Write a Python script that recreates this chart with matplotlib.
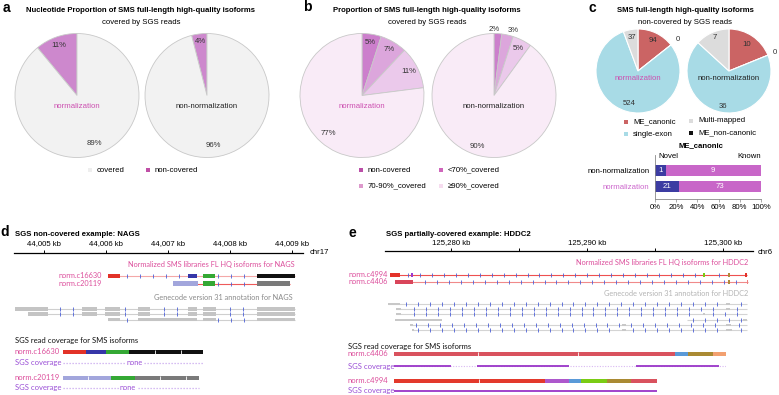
import numpy as np
import matplotlib
matplotlib.use('Agg')
import matplotlib.pyplot as plt
from matplotlib.patches import Rectangle

W, H = 779, 395
plt.rcParams['font.family'] = ['Liberation Sans', 'DejaVu Sans']

# ------------------------------------------------------------------ data
A_LABELS = ['covered', 'non-covered']
A_NORM = [11, 89]          # non-covered, covered
A_NONNORM = [4, 96]

B_LABELS = ['non-covered', '<70%_covered', '70-90%_covered', '≥90%_covered']
B_NORM = [5, 7, 11, 77]
B_NONNORM = [2, 3, 5, 90]

C_LABELS = ['ME_canonic', 'ME_non-canonic', 'single-exon', 'Multi-mapped']
C_NORM = [94, 0, 524, 37]
C_NONNORM = [10, 0, 36, 7]

BAR_GROUPS = ['normalization', 'non-normalization']
BAR_NOVEL = [21, 1]
BAR_KNOWN = [73, 9]
BAR_TICKS = [0, 20, 40, 60, 80, 100]

# panel d (NAGS, chr17, kb)
D_RANGE = [44004.52, 44009.18]
D_TICKS = [44005, 44006, 44007, 44008, 44009]
D_ISO_NAMES = ['norm.c16630', 'norm.c20119']
D_ISO1_STARTS = [44006.03, 44007.32, 44007.56, 44008.44]
D_ISO1_ENDS = [44006.23, 44007.47, 44007.76, 44009.05]
D_ISO2_STARTS = [44007.08, 44007.56, 44008.44]
D_ISO2_ENDS = [44007.48, 44007.76, 44008.97]
D_ANN1_STARTS = [44004.53, 44005.61, 44005.98, 44006.52, 44007.32, 44007.56, 44008.44]
D_ANN1_ENDS = [44005.07, 44005.86, 44006.23, 44006.71, 44007.47, 44007.77, 44009.05]
D_ANN2_STARTS = [44004.74, 44005.61, 44005.98, 44006.52, 44007.32, 44007.56, 44008.44]
D_ANN2_ENDS = [44005.07, 44005.86, 44006.23, 44006.71, 44007.47, 44007.77, 44009.05]
D_ANN3_STARTS = [44006.03, 44006.52, 44007.56, 44008.44]
D_ANN3_ENDS = [44006.23, 44007.47, 44007.77, 44009.05]

# panel e (HDDC2, chr6, kb)
E_RANGE = [125275.15, 125302.21]
E_MAJOR = [125280, 125290, 125300]
E_MINOR = [125285, 125295]
E_ISO_NAMES = ['norm.c4994', 'norm.c4406']
E_ISO1_STARTS = [125275.51, 125277.05, 125298.55, 125300.38, 125301.62]
E_ISO1_ENDS = [125276.25, 125277.20, 125298.68, 125300.50, 125301.76]
E_ISO2_STARTS = [125275.88, 125300.38, 125301.76]
E_ISO2_ENDS = [125277.21, 125300.50, 125301.84]
E_ANN_SPANS = [(125275.37, 125301.76), (125275.96, 125301.76), (125275.96, 125301.76),
               (125297.35, 125301.76), (125276.99, 125301.76), (125277.13, 125301.76)]
E_ANN_EXONS = [[(125275.37, 125276.25), (125300.25, 125300.5)],
               [(125275.96, 125276.3), (125300.25, 125300.5)],
               [(125275.96, 125276.3), (125298.5, 125298.7)],
               [(125275.88, 125279.34), (125301.5, 125301.76)],
               [(125276.99, 125277.2), (125292.6, 125292.9), (125300.25, 125300.6)],
               [(125277.13, 125277.3), (125292.57, 125292.9), (125300.2, 125300.7)]]

# coverage tracks (relative isoform length units)
COV_D_NAMES = ['norm.c16630', 'norm.c20119']
COV_D1_SEGS = [23, 20, 23, 74]
COV_D1_JUNC = [92, 118]
COV_D2_SEGS = [48, 24, 64]
COV_D2_JUNC = [25, 97, 123]
COV_E_NAMES = ['norm.c4406', 'norm.c4994']
COV_E1_SEGS = [281, 13, 25, 13]
COV_E1_JUNC = [84, 184]
COV_E1_COVERED = [(0, 57), (83, 175), (242, 325)]
COV_E2_SEGS = [151, 24, 12, 26, 24, 26]
COV_E2_JUNC = [85]
COV_E2_COVERED = [(0, 263)]

# ------------------------------------------------------------------ style
FS = 5.6
TFS = 5.6
GF = ['Lato', 'DejaVu Sans']
MAG = '#cc4fb0'
PINK = '#dc4f9c'
PURP = '#9a4fd6'
BLUE_TICK = '#4a5fd8'

fig = plt.figure(figsize=(W / 100, H / 100), dpi=100)


def px_box(x0, y0, x1, y1):
    return [x0 / W, 1 - y1 / H, (x1 - x0) / W, (y1 - y0) / H]


canvas = fig.add_axes([0, 0, 1, 1])
canvas.set_xlim(0, W)
canvas.set_ylim(H, 0)
canvas.axis('off')


def T(x, y, s, **kw):
    kw.setdefault('va', 'center')
    kw.setdefault('fontsize', FS)
    canvas.text(x, y, s, **kw)


def swatch(x, y, c, s=4.2):
    canvas.add_patch(Rectangle((x - s / 2, y - s / 2), s, s, color=c, lw=0))


# panel letters
for L, x, y in [('a', 6, 8), ('b', 307, 7), ('c', 592, 8), ('d', 5, 232), ('e', 352, 233)]:
    T(x, y, L, fontsize=10, fontweight='bold', ha='center')


def draw_pie(cx, cy, r, vals, cols, ccw, dists, ctext, ccol, pct, edge, lw=0.6, shifts=None):
    pad = 1.45
    ax = fig.add_axes(px_box(cx - r * pad, cy - r * pad, cx + r * pad, cy + r * pad))
    wedges, _ = ax.pie(vals, colors=cols, startangle=90, counterclock=ccw,
                       wedgeprops=dict(edgecolor=edge, linewidth=lw))
    ax.set_xlim(-pad, pad)
    ax.set_ylim(-pad, pad)
    ax.set_aspect('equal')
    ax.axis('off')
    tot = sum(vals)
    if shifts is None:
        shifts = [0] * len(vals)
    for w, v, d, sh in zip(wedges, vals, dists, shifts):
        th = np.deg2rad((w.theta1 + w.theta2) / 2)
        lab = f'{round(100 * v / tot)}%' if pct else f'{v}'
        ax.text(d * np.cos(th) + sh, d * np.sin(th), lab, ha='center', va='center',
                fontsize=FS, color='#333333')
    ax.text(0, -0.17, ctext, ha='center', va='center', fontsize=FS, color=ccol)
    return ax


# ---------------- panel a
T(141, 10, 'Nucleotide Proportion of SMS full-length high-quality isoforms',
  fontsize=TFS, fontweight='bold', ha='center')
T(141, 22, 'covered by SGS reads', ha='center')
A_COL = ['#cd88cd', '#f2f2f2']
draw_pie(77, 95.5, 62, A_NORM, A_COL, True, [0.86, 0.82], 'normalization', MAG, True, '#c8c8c8')
draw_pie(207, 95.5, 62, A_NONNORM, A_COL, True, [0.87, 0.82], 'non-normalization', '#222222', True, '#c8c8c8')
swatch(90, 170, '#eeeeee')
T(97, 170, A_LABELS[0])
swatch(148, 170, '#c04fa6')
T(155, 170, A_LABELS[1])

# ---------------- panel b
T(427, 11, 'Proportion of SMS full-length high-quality isoforms',
  fontsize=TFS, fontweight='bold', ha='center')
T(427, 22, 'covered by SGS reads', ha='center')
B_COL = ['#cc7fcc', '#dca6dc', '#ebc9eb', '#f9ebf7']
draw_pie(362, 95.5, 62, B_NORM, B_COL, False, [0.86, 0.86, 0.85, 0.82], 'normalization', MAG, True, '#c8c8c8')
draw_pie(494, 95.5, 62, B_NONNORM, B_COL, False, [1.07, 1.08, 0.85, 0.87], 'non-normalization', '#222222', True,
         '#c8c8c8', shifts=[-0.06, 0.07, 0, 0])
B_LEG = ['#bb4fa8', '#cf66bb', '#dd99cc', '#f6dcef']
for lab, c, (x, y) in zip(B_LABELS, B_LEG, [(361, 170), (441, 170), (361, 186), (441, 186)]):
    swatch(x, y, c)
    T(x + 7, y, lab)

# ---------------- panel c
T(685, 11, 'SMS full-length high-quality isoforms', fontsize=TFS, fontweight='bold', ha='center')
T(685, 22, 'non-covered by SGS reads', ha='center')
C_COL = ['#cb6464', '#111111', '#a8dbe6', '#dcdcdc']
draw_pie(638, 71, 42, C_NORM, C_COL, False, [0.8, 1.22, 0.8, 0.81], 'normalization', MAG, False, 'white', 0.8)
draw_pie(729, 71, 42, C_NONNORM, C_COL, False, [0.77, 1.18, 0.86, 0.86], 'non-normalization', '#222222', False, 'white', 0.8)
for lab, c, (x, y) in zip(C_LABELS, C_COL, [(626, 122), (691, 133), (626, 134), (691, 121)]):
    swatch(x, y, c)
    T(x + 7, y, lab)

T(701, 146, 'ME_canonic', fontsize=TFS, fontweight='bold', ha='center')
axb = fig.add_axes(px_box(655, 155, 761, 199))
ypos = np.arange(len(BAR_GROUPS))
tot = np.array(BAR_NOVEL) + np.array(BAR_KNOWN)
nov = 100 * np.array(BAR_NOVEL) / tot
kno = 100 * np.array(BAR_KNOWN) / tot
axb.barh(ypos, nov, height=0.64, color='#3c3ca2')
axb.barh(ypos, kno, left=nov, height=0.64, color='#c866c8')
for y, n, k, vn, vk in zip(ypos, nov, kno, BAR_NOVEL, BAR_KNOWN):
    axb.text(n / 2, y, str(vn), color='white', ha='center', va='center', fontsize=FS)
    axb.text(n + k / 2, y, str(vk), color='white', ha='center', va='center', fontsize=FS)
axb.set_xlim(0, 100)
axb.set_ylim(-0.78, 1.97)
axb.set_xticks(BAR_TICKS)
axb.set_xticklabels([f'{t}%' for t in BAR_TICKS], fontsize=FS)
axb.set_yticks(ypos)
axb.set_yticklabels(BAR_GROUPS, fontsize=FS)
axb.get_yticklabels()[0].set_color('#cc66cc')
axb.tick_params(axis='y', length=0, pad=4)
axb.tick_params(axis='x', length=2, width=0.5, pad=1.5, color='#888888')
for s in ['top', 'right']:
    axb.spines[s].set_visible(False)
for s in ['left', 'bottom']:
    axb.spines[s].set_color('#888888')
    axb.spines[s].set_linewidth(0.6)
axb.patch.set_alpha(0)
T(658, 157, 'Novel', ha='left')
T(761, 157, 'Known', ha='right')


# ---------------- genome tracks
def ruler(x0, x1, y, rng, major, minor=None):
    ax = fig.add_axes(px_box(x0, y - 0.5, x1, y))
    ax.set_xlim(*rng)
    ax.set_ylim(0, 1)
    for s in ['bottom', 'left', 'right']:
        ax.spines[s].set_visible(False)
    ax.spines['top'].set_linewidth(0.9)
    ax.set_yticks([])
    ax.xaxis.set_ticks_position('top')
    ax.set_xticks(major)
    ax.set_xticklabels([f'{t:,} kb' for t in major], fontsize=FS)
    if minor:
        ax.set_xticks(minor, minor=True)
    ax.tick_params(axis='x', which='both', direction='out', length=2.5, width=0.7, pad=1.5)
    ax.patch.set_alpha(0)
    return ax


def track_axes(x0, y0, x1, y1, rng):
    ax = fig.add_axes(px_box(x0, y0, x1, y1))
    ax.set_xlim(*rng)
    ax.set_ylim(y1, y0)
    ax.axis('off')
    return ax


def transcript(ax, y, span, starts, ends, cols, line_col, step, h=4.2, ticks=True):
    ax.plot(span, [y, y], color=line_col, lw=0.8, zorder=1, solid_capstyle='butt')
    if ticks:
        xs = np.arange(span[0] + step / 2, span[1], step)
        keep = [x for x in xs if not any(s - step * 0.2 <= x <= e + step * 0.2 for s, e in zip(starts, ends))]
        ax.plot(keep, [y] * len(keep), ls='none', marker='|', ms=2.2, mew=0.6, color=BLUE_TICK, zorder=2)
    for s, e, c in zip(starts, ends, cols):
        ax.add_patch(Rectangle((s, y - h / 2), e - s, h, color=c, lw=0, zorder=3))


# panel d
T(15, 235, 'SGS non-covered example: NAGS', fontsize=TFS, fontweight='bold', ha='left')
ruler(14, 303, 253, D_RANGE, D_TICKS)
T(310, 253, 'chr17', ha='left')
axd = track_axes(14, 258, 303, 325, D_RANGE)
T(295, 265, 'Normalized SMS libraries FL HQ isoforms for NAGS', ha='right', color=PINK, family=GF, fontsize=5.3)
T(102, 276, D_ISO_NAMES[0], ha='right', color=PINK, family=GF, fontsize=5.3)
T(102, 283, D_ISO_NAMES[1], ha='right', color=PINK, family=GF, fontsize=5.3)
transcript(axd, 276, (D_ISO1_STARTS[0], D_ISO1_ENDS[-1]), D_ISO1_STARTS, D_ISO1_ENDS,
           ['#e23228', '#3636a8', '#34a834', '#111111'], '#f4a8a8', 0.21)
transcript(axd, 283.5, (D_ISO2_STARTS[0], D_ISO2_ENDS[-1]), D_ISO2_STARTS, D_ISO2_ENDS,
           ['#a2a6dc', '#34a834', '#7a7a7a'], '#ee5a5a', 0.21)
T(293, 298, 'Genecode version 31 annotation for NAGS', ha='right', color='#8a8a8a', family=GF, fontsize=5.3)
for y, ss, ee in [(309, D_ANN1_STARTS, D_ANN1_ENDS), (314, D_ANN2_STARTS, D_ANN2_ENDS),
                  (319.5, D_ANN3_STARTS, D_ANN3_ENDS)]:
    transcript(axd, y, (ss[0], ee[-1]), ss, ee, ['#c4c4c4'] * len(ss), '#cfcfcf', 0.21, h=3.2)

# panel e
T(386, 235, 'SGS partially-covered example: HDDC2', fontsize=TFS, fontweight='bold', ha='left')
ruler(385, 753, 252, E_RANGE, E_MAJOR, E_MINOR)
T(758, 253, 'chr6', ha='left')
axe = track_axes(385, 258, 753, 335, E_RANGE)
T(748, 263, 'Normalized SMS libraries FL HQ isoforms for HDDC2', ha='right', color=PINK, family=GF, fontsize=5.3)
T(388, 274.5, E_ISO_NAMES[0], ha='right', color=PINK, family=GF, fontsize=5.3)
T(388, 281, E_ISO_NAMES[1], ha='right', color=PINK, family=GF, fontsize=5.3)
transcript(axe, 275, (E_ISO1_STARTS[0], E_ISO1_ENDS[-1]), E_ISO1_STARTS, E_ISO1_ENDS,
           ['#e3322a', '#9a3ad0', '#77cc11', '#b08a3a', '#e3322a'], '#ee5050', 0.88, h=3.4)
transcript(axe, 282, (E_ISO2_STARTS[0], E_ISO2_ENDS[-1]), E_ISO2_STARTS, E_ISO2_ENDS,
           ['#d9455a', '#b08a3a', '#ee8080'], '#f08a8a', 0.88, h=3.4)
T(748, 294, 'Genecode version 31 annotation for HDDC2', ha='right', color='#b4b4b4', family=GF, fontsize=5.3)
for y, span, ex in zip([304, 309, 314, 320, 325, 330], E_ANN_SPANS, E_ANN_EXONS):
    transcript(axe, y, span, [a for a, b in ex], [b for a, b in ex], ['#c8c8c8'] * len(ex),
               '#d4d4d4', 0.88, h=2.6)
axe.add_patch(Rectangle((E_ANN_EXONS[3][0][0], 320 - 1.3), E_ANN_EXONS[3][0][1] - E_ANN_EXONS[3][0][0], 2.6,
                        color='#c8c8c8', lw=0))


# ---------------- coverage
def cov_bar(ax, y, segs, cols, junc, h=4.0):
    left = np.concatenate([[0], np.cumsum(segs)[:-1]])
    ax.barh([y] * len(segs), segs, left=left, height=h, color=cols, lw=0)
    ax.vlines(junc, y - h / 2, y + h / 2, color='white', lw=0.6)


def cov_none(ax, y, total, xmid):
    ax.plot([0, total], [y, y], color='#c9a8ee', lw=0.9, ls=(0, (1, 1.4)))
    ax.text(xmid, y, 'none', ha='center', va='center', fontsize=5.3, family=GF, color=PURP,
            bbox=dict(facecolor='white', edgecolor='none', pad=0.3))


T(15, 341, 'SGS read coverage for SMS isoforms', ha='left', family=GF, fontsize=5.5, color='#111111')
axcd = track_axes(63, 345, 203, 395, (0, 140))
T(15, 352, COV_D_NAMES[0], ha='left', color=PINK, family=GF, fontsize=5.5)
T(15, 362.5, 'SGS coverage', ha='left', color=PURP, family=GF, fontsize=5.5)
T(15, 377.5, COV_D_NAMES[1], ha='left', color=PINK, family=GF, fontsize=5.5)
T(15, 387.5, 'SGS coverage', ha='left', color=PURP, family=GF, fontsize=5.5)
cov_bar(axcd, 352, COV_D1_SEGS, ['#e23228', '#3636a8', '#34a834', '#111111'], COV_D1_JUNC)
cov_none(axcd, 362.5, sum(COV_D1_SEGS), 72)
cov_bar(axcd, 377.5, COV_D2_SEGS, ['#a2a6dc', '#34a834', '#7a7a7a'], COV_D2_JUNC)
cov_none(axcd, 387.5, sum(COV_D2_SEGS), 65)

T(348, 346, 'SGS read coverage for SMS isoforms', ha='left', family=GF, fontsize=5.5, color='#111111')
T(348, 354, COV_E_NAMES[0], ha='left', color=PINK, family=GF, fontsize=5.5)
T(348, 366, 'SGS coverage', ha='left', color=PURP, family=GF, fontsize=5.5)
T(348, 380.5, COV_E_NAMES[1], ha='left', color=PINK, family=GF, fontsize=5.5)
T(348, 391, 'SGS coverage', ha='left', color=PURP, family=GF, fontsize=5.5)
axce = track_axes(394, 345, 726, 395, (0, 332))
cov_bar(axce, 354, COV_E1_SEGS, ['#d9525e', '#5a9ad8', '#aa8a33', '#f2a070'], COV_E1_JUNC)
axce.plot([0, sum(COV_E1_SEGS)], [366, 366], color='#d8b8f2', lw=0.8, ls=(0, (1, 1.4)))
for a, b in COV_E1_COVERED:
    axce.plot([a, b], [366, 366], color='#9a35c8', lw=1.3, solid_capstyle='butt')
cov_bar(axce, 380.5, COV_E2_SEGS, ['#e3392c', '#ad58cc', '#5a9ad8', '#7acc14', '#aa8a33', '#d9525e'], COV_E2_JUNC)
for a, b in COV_E2_COVERED:
    axce.plot([a, b], [391, 391], color='#9a35c8', lw=1.3, solid_capstyle='butt')

fig.savefig('out.png', dpi=100)
